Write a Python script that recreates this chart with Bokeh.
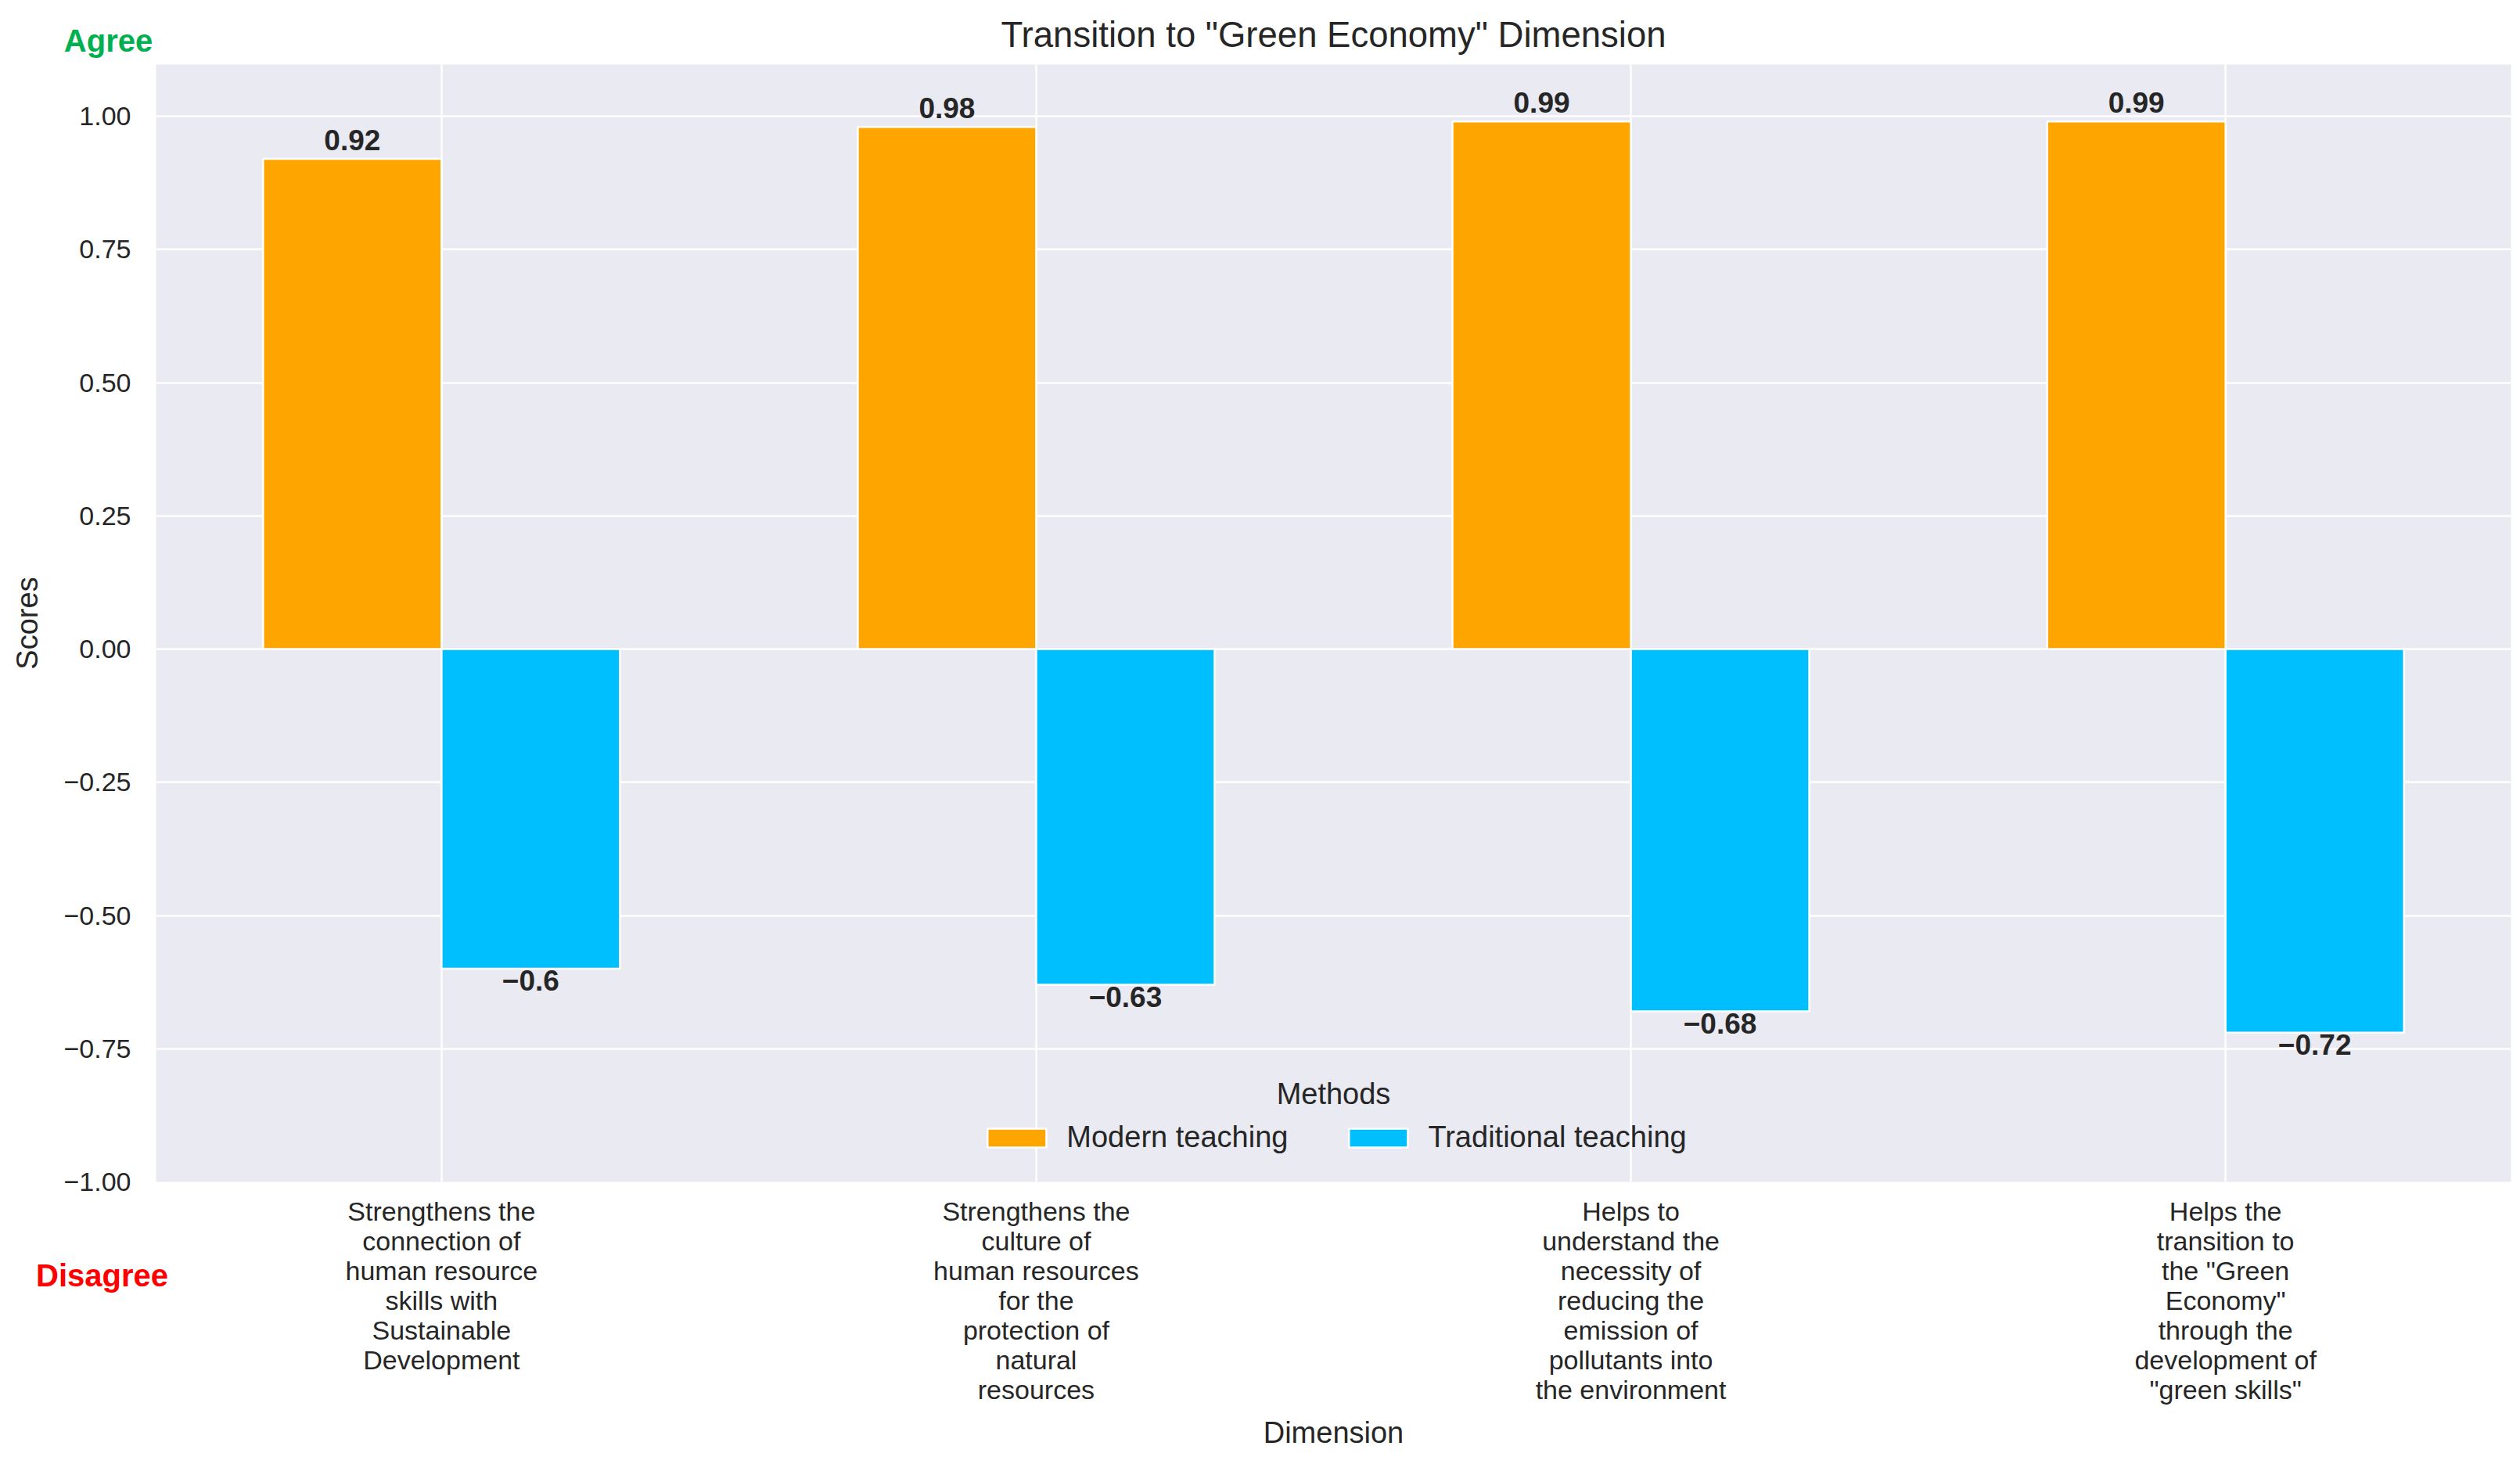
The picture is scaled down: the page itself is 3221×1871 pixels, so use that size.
from bokeh.plotting import figure
from bokeh.models import ColumnDataSource, Range1d, FixedTicker, Label, Legend, LegendItem, CustomJSTickFormatter
from bokeh.core.properties import value
from bokeh.embed import file_html
from bokeh.resources import INLINE
import numpy as np

categories = [
    "Strengthens the\nconnection of\nhuman resource\nskills with\nSustainable\nDevelopment",
    "Strengthens the\nculture of\nhuman resources\nfor the\nprotection of\nnatural\nresources",
    "Helps to\nunderstand the\nnecessity of\nreducing the\nemission of\npollutants into\nthe environment",
    "Helps the\ntransition to\nthe \"Green\nEconomy\"\nthrough the\ndevelopment of\n\"green skills\"",
]
modern = [0.92, 0.98, 0.99, 0.99]
traditional = [-0.6, -0.63, -0.68, -0.72]
modern_labels = ["0.92", "0.98", "0.99", "0.99"]
traditional_labels = ["\u22120.6", "\u22120.63", "\u22120.68", "\u22120.72"]
y_ticks = [1.0, 0.75, 0.5, 0.25, 0.0, -0.25, -0.5, -0.75, -1.0]

FONT = "Liberation Sans"
TXT = "#262626"

idx = np.arange(len(categories))
src_m = ColumnDataSource(dict(x=idx - 0.15, top=modern, lab=modern_labels))
src_t = ColumnDataSource(dict(x=idx + 0.15, top=traditional, lab=traditional_labels))

X0, X1 = -0.48, 3.48
Y0, Y1 = -1.0, 1.097
# canvas layout: the frame spans x 199..3209 and y 82..1510 in the window;
# the (empty) right border lies outside the window and only hosts the two side notes
BL, BT, BB = 199, 82, 353
FW = 3010
BR = 300
W, H = BL + FW + BR, 1863
FH = H - BT - BB

p = figure(width=W, height=H, output_backend="svg", toolbar_location=None,
           x_range=Range1d(X0, X1), y_range=Range1d(Y0, Y1),
           min_border_left=BL, min_border_right=BR, min_border_top=BT, min_border_bottom=BB)

p.background_fill_color = "#EAEAF2"
p.border_fill_color = None
p.outline_line_color = None

p.title.text = 'Transition to "Green Economy" Dimension'
p.title.align = "center"
p.title.text_font = FONT
p.title.text_font_size = "45.5px"
p.title.text_font_style = "normal"
p.title.text_color = TXT
p.title.standoff = 26

rm = p.vbar(x="x", top="top", bottom=0, width=0.3, source=src_m,
            fill_color="#FFA500", line_color="white", line_width=2.5)
rt = p.vbar(x="x", top="top", bottom=0, width=0.3, source=src_t,
            fill_color="#00BFFF", line_color="white", line_width=2.5)

p.text(x="x", y="top", text="lab", source=src_m, text_font=value(FONT),
       text_font_size="37px", text_font_style="bold", text_color=TXT,
       text_align="center", text_baseline="bottom", y_offset=-11)
p.text(x="x", y="top", text="lab", source=src_t, text_font=value(FONT),
       text_font_size="37px", text_font_style="bold", text_color=TXT,
       text_align="center", text_baseline="top", y_offset=2)

# axes
p.xaxis.ticker = FixedTicker(ticks=list(idx))
p.xaxis.major_label_overrides = {int(i): c for i, c in zip(idx, categories)}
p.yaxis.ticker = FixedTicker(ticks=y_ticks)
p.yaxis.formatter = CustomJSTickFormatter(code="return (tick < 0 ? '\\u2212' : '') + Math.abs(tick).toFixed(2);")

for ax in (p.xaxis[0], p.yaxis[0]):
    ax.axis_line_color = None
    ax.major_tick_line_color = None
    ax.minor_tick_line_color = None
    ax.major_label_text_font = FONT
    ax.major_label_text_color = TXT
    ax.axis_label_text_font = FONT
    ax.axis_label_text_font_style = "normal"
    ax.axis_label_text_color = TXT
    ax.axis_label_text_font_size = "38px"

p.yaxis.major_label_text_font_size = "34px"
p.yaxis.major_label_standoff = 26
p.yaxis.axis_label = "Scores"
p.yaxis.axis_label_standoff = 22

p.xaxis.major_label_text_font_size = "34px"
p.xaxis.major_label_text_line_height = 1.0
p.xaxis.major_label_standoff = 12
p.xaxis.axis_label = "Dimension"
p.xaxis.axis_label_standoff = 12

p.xgrid.ticker = FixedTicker(ticks=list(idx))
p.xgrid.grid_line_color = "white"
p.xgrid.grid_line_width = 2.5
p.ygrid.ticker = FixedTicker(ticks=y_ticks)
p.ygrid.grid_line_color = "white"
p.ygrid.grid_line_width = 2.5

legend = Legend(items=[LegendItem(label="Modern teaching", renderers=[rm]),
                       LegendItem(label="Traditional teaching", renderers=[rt])],
                orientation="horizontal", location="bottom_center")
legend.label_text_font = FONT
legend.label_text_font_size = "38px"
legend.label_text_color = TXT
legend.glyph_width = 94
legend.glyph_height = 30
legend.label_standoff = 17
legend.spacing = 68
legend.margin = 29
legend.padding = 6
legend.background_fill_alpha = 0
legend.border_line_alpha = 0
p.add_layout(legend, "center")

p.add_layout(Label(x=FW / 2, y=113, x_units="screen", y_units="screen", text="Methods",
                   text_font=FONT, text_font_size="38px", text_color=TXT,
                   text_align="center", text_baseline="middle"))


def px_to_data(px, py):
    """window pixel -> data coordinates through the frame mapping"""
    return (X0 + (px - BL) / FW * (X1 - X0),
            Y1 - (py - BT) / FH * (Y1 - Y0))


ax_, ay_ = px_to_data(138, 51)
dx_, dy_ = px_to_data(130, 1629)
# side-panel annotations are not clipped to the frame
p.add_layout(Label(x=ax_, y=ay_, text="Agree",
                   text_font=FONT, text_font_size="40px", text_font_style="bold",
                   text_color="#00B050", text_align="center", text_baseline="middle"), "right")
p.add_layout(Label(x=dx_, y=dy_, text="Disagree",
                   text_font=FONT, text_font_size="40px", text_font_style="bold",
                   text_color="#FF0000", text_align="center", text_baseline="middle"), "right")

open("out.html", "w").write(file_html(p, INLINE))
